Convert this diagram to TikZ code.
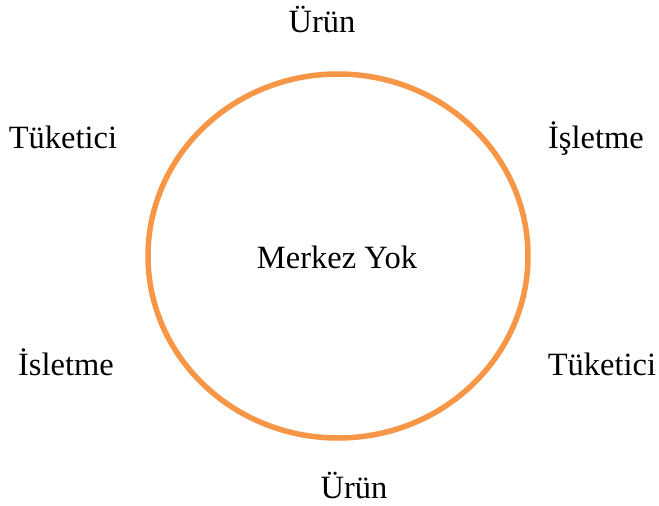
\documentclass[tikz,border=0pt]{standalone}
\usepackage{fontspec}
\setmainfont{Liberation Serif}
\definecolor{ring}{HTML}{F79646}
\begin{document}
\begin{tikzpicture}[x=1pt,y=-1pt,
  lbl/.style={inner sep=0pt,anchor=base,font=\fontsize{32.5}{38}\selectfont}]
\useasboundingbox (0,0) rectangle (659,506);
\draw[ring,line width=5.5pt] (338,256) ellipse [x radius=190, y radius=182];
\node[lbl] (c) at (337,268) {Merkez Yok};
\node[lbl] (u1) at (322,32) {Ürün};
\node[lbl] (t1) at (63,148) {Tüketici};
\node[lbl] (i1) at (596,148) {İşletme};
\node[lbl] (i2) at (66,375) {İsletme};
\node[lbl] (t2) at (602,375) {Tüketici};
\node[lbl] (u2) at (354,498) {Ürün};
\end{tikzpicture}
\end{document}
